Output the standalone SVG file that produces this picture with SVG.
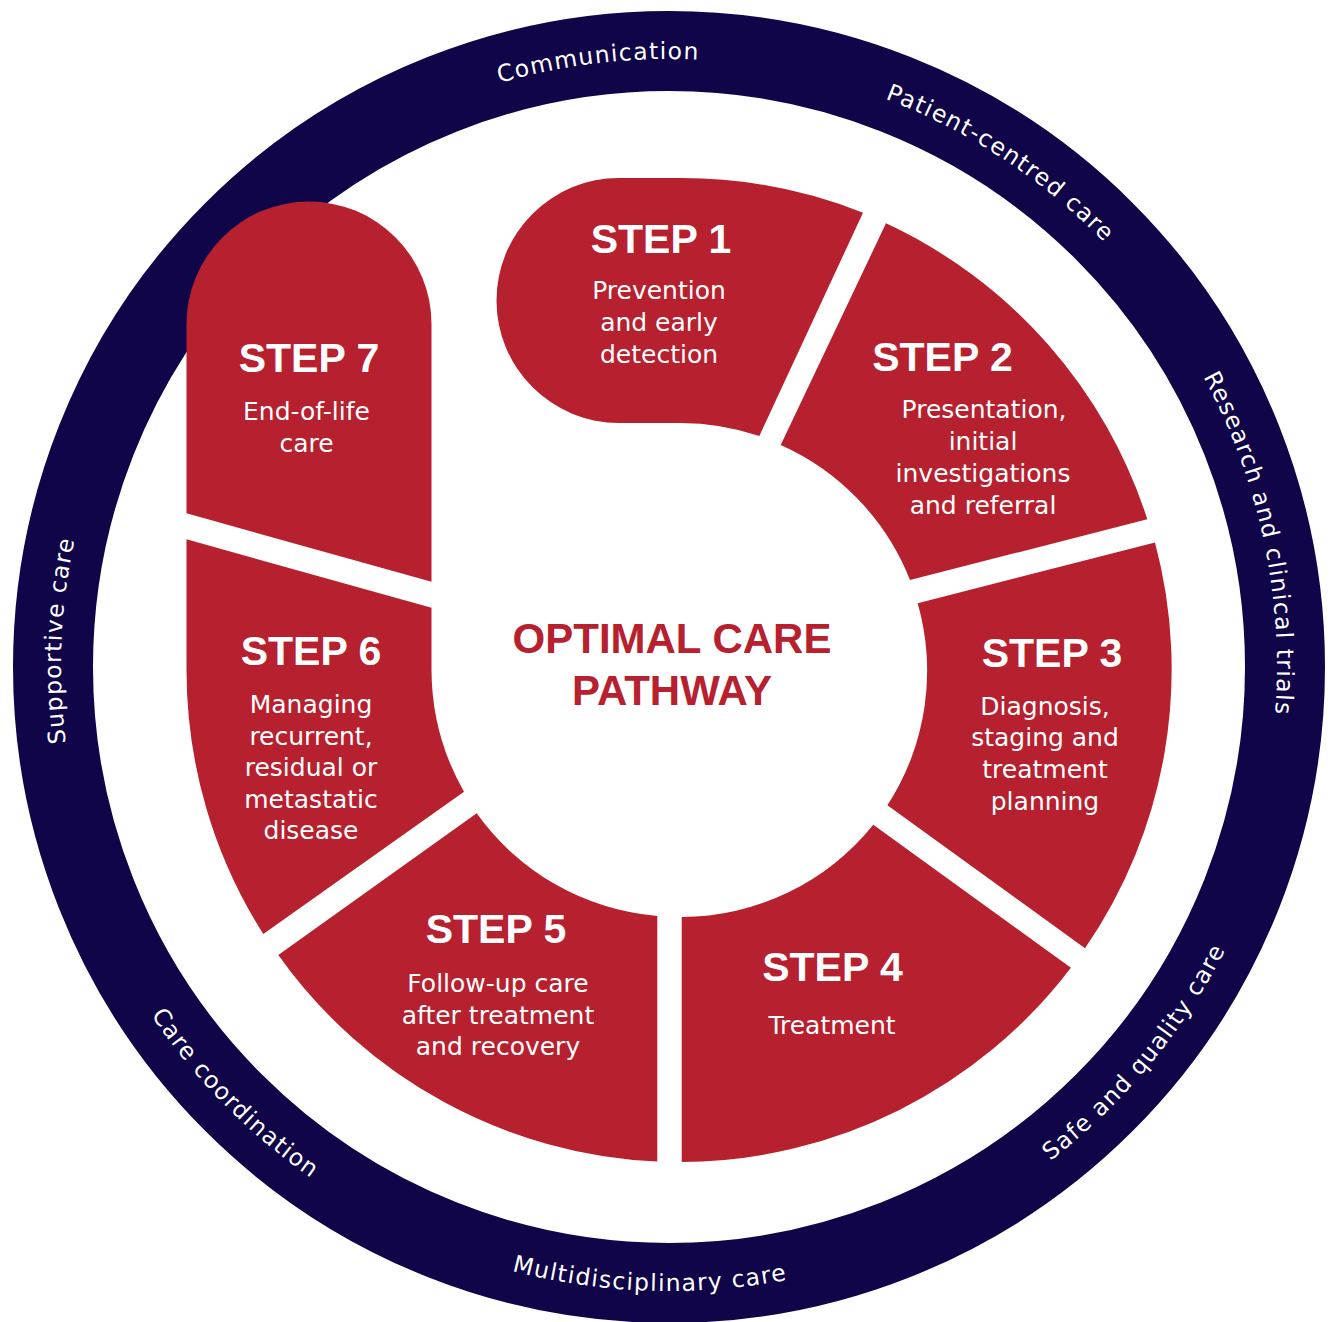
<svg xmlns="http://www.w3.org/2000/svg" width="1333" height="1322" viewBox="0 0 1333 1322">
<style>
.seg{fill:#B7202E}
.ring{fill:none;stroke:#0F0548;stroke-width:80}
.step{font-family:"Liberation Sans",Arial,sans-serif;font-weight:bold;font-size:41px;fill:#fff;text-anchor:middle}
.body{font-family:"DejaVu Sans",sans-serif;font-size:25px;fill:#fff;text-anchor:middle}
.title{font-family:"Liberation Sans",Arial,sans-serif;font-weight:bold;font-size:42px;fill:#B7202E;text-anchor:middle}
.rt{font-family:"DejaVu Sans",sans-serif;font-size:23.5px;fill:#fff;letter-spacing:1.3px}
</style>
<defs>
<path id="cw" d="M669,1275 A608,608 0 1 1 669,59 A608,608 0 1 1 669,1275"/>
<path id="ccw" d="M669,43 A624,624 0 1 0 669,1291 A624,624 0 1 0 669,43"/>
</defs>
<rect width="1333" height="1322" fill="#fff"/>
<g id="ring">
<circle class="ring" cx="669" cy="667" r="616"/>
<text class="rt"><textPath href="#cw" startOffset="48.15%" text-anchor="middle">Communication</textPath></text>
<text class="rt"><textPath href="#cw" startOffset="59.25%" text-anchor="middle">Patient-centred care</textPath></text>
<text class="rt"><textPath href="#cw" startOffset="71.67%" text-anchor="middle">Research and clinical trials</textPath></text>
<text class="rt"><textPath href="#cw" startOffset="25.69%" text-anchor="middle">Supportive care</textPath></text>
<text class="rt"><textPath href="#ccw" startOffset="37.36%" text-anchor="middle">Care coordination</textPath></text>
<text class="rt"><textPath href="#ccw" startOffset="49.5%" text-anchor="middle">Multidisciplinary care</textPath></text>
<text class="rt"><textPath href="#ccw" startOffset="64%" text-anchor="middle">Safe and quality care</textPath></text>
</g>
<g id="step1">
<path class="seg" d="M863,212.7 A492,492 0 0 0 678.5,178 L619,178 A122.5,122.5 0 0 0 619,423 L678.5,423 A247,247 0 0 1 759.3,436 Z"/>
<text class="step" x="661" y="253">STEP 1</text>
<text class="body" x="659" y="299">Prevention</text>
<text class="body" x="659" y="331">and early</text>
<text class="body" x="659" y="363">detection</text>
</g>
<g id="step2">
<path class="seg" d="M780.7,445 L886,223.3 A492,492 0 0 1 1147.3,519.3 L910,580 A247,247 0 0 0 780.7,445 Z"/>
<text class="step" x="942.5" y="371">STEP 2</text>
<text class="body" x="984" y="418">Presentation,</text>
<text class="body" x="983" y="450">initial</text>
<text class="body" x="983" y="482">investigations</text>
<text class="body" x="983" y="513.5">and referral</text>
</g>
<g id="step3">
<path class="seg" d="M917.7,603.2 L1155,542.5 A492,492 0 0 1 1085,948.3 L887.4,805.3 A247,247 0 0 0 917.7,603.2 Z"/>
<text class="step" x="1052" y="667">STEP 3</text>
<text class="body" x="1045" y="715">Diagnosis,</text>
<text class="body" x="1045" y="746">staging and</text>
<text class="body" x="1045" y="778">treatment</text>
<text class="body" x="1045" y="809.5">planning</text>
</g>
<g id="step4">
<path class="seg" d="M873.3,824.7 L1070.9,967.7 A492,492 0 0 1 681.7,1162 L681.7,917 A247,247 0 0 0 873.3,824.7 Z"/>
<text class="step" x="832.5" y="981">STEP 4</text>
<text class="body" x="832" y="1034">Treatment</text>
</g>
<g id="step5">
<path class="seg" d="M278.3,955 L476.7,813.3 A247,247 0 0 0 657.3,916 L657.3,1161.5 A492,492 0 0 1 278.3,955 Z"/>
<text class="step" x="496" y="943">STEP 5</text>
<text class="body" x="498" y="992">Follow-up care</text>
<text class="body" x="498" y="1023.5">after treatment</text>
<text class="body" x="498" y="1055">and recovery</text>
</g>
<g id="step6">
<path class="seg" d="M186.5,539.3 L431.5,607.7 L431.5,670 A247,247 0 0 0 464,791.7 L263.3,934 A492,492 0 0 1 186.5,670 Z"/>
<text class="step" x="311" y="665">STEP 6</text>
<text class="body" x="311" y="713">Managing</text>
<text class="body" x="311" y="744.5">recurrent,</text>
<text class="body" x="311" y="776">residual or</text>
<text class="body" x="311" y="807.5">metastatic</text>
<text class="body" x="311" y="839">disease</text>
</g>
<g id="step7">
<path class="seg" d="M186.5,513.3 L186.5,324 A122.5,122.5 0 0 1 431.5,324 L431.5,581.7 Z"/>
<text class="step" x="309" y="371.5">STEP 7</text>
<text class="body" x="306.5" y="420">End-of-life</text>
<text class="body" x="306.5" y="451.5">care</text>
</g>
<g id="centre">
<text class="title" x="672" y="653">OPTIMAL CARE</text>
<text class="title" x="672" y="705">PATHWAY</text>
</g>
</svg>
